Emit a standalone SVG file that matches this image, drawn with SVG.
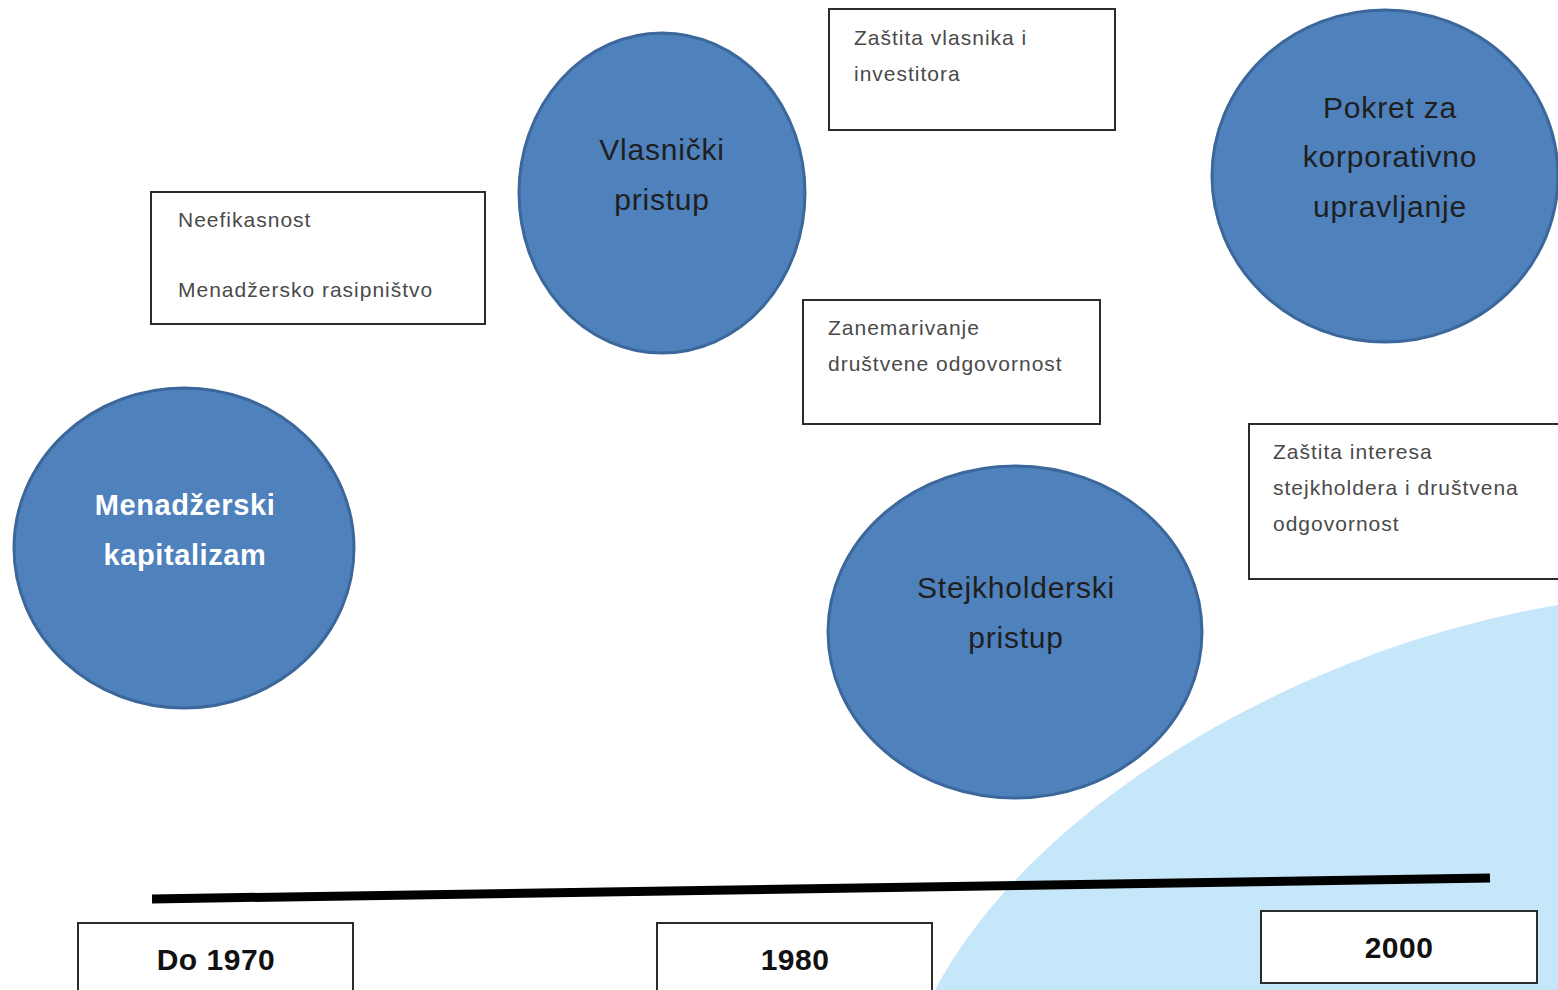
<svg xmlns="http://www.w3.org/2000/svg" width="1558" height="990" viewBox="0 0 1558 990">
<style>
.bg{fill:#ffffff}
.circ{fill:#4F81BD;stroke:#3B679A;stroke-width:3}
.ct{font-family:"Liberation Sans",Arial,sans-serif;font-size:30px;letter-spacing:0.8px;fill:#1f1f1f;text-anchor:middle}
.ctw{font-family:"Liberation Sans",Arial,sans-serif;font-size:29px;letter-spacing:0.6px;font-weight:bold;fill:#ffffff;text-anchor:middle}
.box{fill:#ffffff;stroke:#2b2b2b;stroke-width:2}
.bt{font-family:"Liberation Sans",Arial,sans-serif;font-size:21px;letter-spacing:1px;fill:#4a4a4a}
.yt{font-family:"Liberation Sans",Arial,sans-serif;font-size:30px;letter-spacing:0.5px;font-weight:bold;fill:#111111;text-anchor:middle}
</style>
<rect class="bg" x="0" y="0" width="1558" height="990"/>
<path id="bgshape" d="M 935 990 C 1030 810, 1290 650, 1558 605 L 1558 990 Z" fill="#C6E7F9"/>
<g id="connectors">
<line x1="152" y1="899" x2="1490" y2="878" stroke="#000000" stroke-width="9"/>
</g>
<g id="n-menadzerski">
<ellipse class="circ" cx="184" cy="548" rx="170" ry="160"/>
<text class="ctw" x="185" y="515">Menadžerski</text>
<text class="ctw" x="185" y="565">kapitalizam</text>
</g>
<g id="n-vlasnicki">
<ellipse class="circ" cx="662" cy="193" rx="143" ry="160"/>
<text class="ct" x="662" y="160">Vlasnički</text>
<text class="ct" x="662" y="210">pristup</text>
</g>
<g id="n-stejkholderski">
<ellipse class="circ" cx="1015" cy="632" rx="187" ry="166"/>
<text class="ct" x="1016" y="598">Stejkholderski</text>
<text class="ct" x="1016" y="648">pristup</text>
</g>
<g id="n-pokret">
<ellipse class="circ" cx="1385" cy="176" rx="173" ry="166"/>
<text class="ct" x="1390" y="118">Pokret za</text>
<text class="ct" x="1390" y="167">korporativno</text>
<text class="ct" x="1390" y="217">upravljanje</text>
</g>
<g id="b-neefikasnost">
<rect class="box" x="151" y="192" width="334" height="132"/>
<text class="bt" x="178" y="227">Neefikasnost</text>
<text class="bt" x="178" y="297">Menadžersko rasipništvo</text>
</g>
<g id="b-zastita-vlasnika">
<rect class="box" x="829" y="9" width="286" height="121"/>
<text class="bt" x="854" y="45">Zaštita vlasnika i</text>
<text class="bt" x="854" y="81">investitora</text>
</g>
<g id="b-zanemarivanje">
<rect class="box" x="803" y="300" width="297" height="124"/>
<text class="bt" x="828" y="335">Zanemarivanje</text>
<text class="bt" x="828" y="371">društvene odgovornost</text>
</g>
<g id="b-zastita-interesa">
<rect class="box" x="1249" y="424" width="320" height="155"/>
<text class="bt" x="1273" y="459">Zaštita interesa</text>
<text class="bt" x="1273" y="495">stejkholdera i društvena</text>
<text class="bt" x="1273" y="531">odgovornost</text>
</g>
<g id="y-1970">
<rect class="box" x="78" y="923" width="275" height="80"/>
<text class="yt" x="216" y="970">Do 1970</text>
</g>
<g id="y-1980">
<rect class="box" x="657" y="923" width="275" height="80"/>
<text class="yt" x="795" y="970">1980</text>
</g>
<g id="y-2000">
<rect class="box" x="1261" y="911" width="276" height="72"/>
<text class="yt" x="1399" y="958">2000</text>
</g>
</svg>
